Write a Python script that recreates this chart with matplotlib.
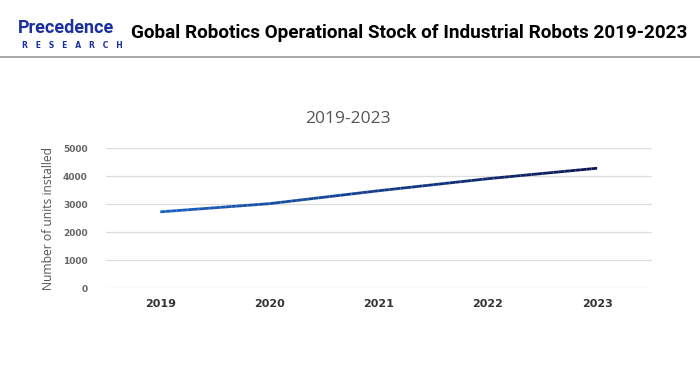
import numpy as np
import matplotlib.pyplot as plt
from matplotlib.collections import LineCollection
from matplotlib.colors import to_rgb
from matplotlib.lines import Line2D

years = ['2019', '2020', '2021', '2022', '2023']
units = [2722, 3015, 3477, 3907, 4281]
y_ticks = [0, 1000, 2000, 3000, 4000, 5000]

fig = plt.figure(figsize=(7, 3.75), dpi=100)

# header
fig.text(0.025, 0.925, 'Precedence', fontsize=13, fontweight='bold', color='#1b2f9e',
         family='Roboto', ha='left', va='center')
fig.text(0.031, 0.88, 'R   E   S   E   A   R   C   H', fontsize=5.5, fontweight='bold', color='#1b2f9e',
         family='DejaVu Sans', ha='left', va='center')
fig.text(0.187, 0.912, 'Gobal Robotics Operational Stock of Industrial Robots 2019-2023',
         fontsize=13.6, fontweight='bold', color='black', family='Roboto', ha='left', va='center')
fig.add_artist(Line2D([0, 1], [0.848, 0.848], transform=fig.transFigure, color='#9a9a9a', lw=1.2))

ax = fig.add_axes([0.151, 0.232, 0.780, 0.373])
fig.text(0.497, 0.683, '2019-2023', fontsize=12.5, color='#555555', family='Open Sans',
         ha='center', va='center')

x = np.arange(len(years))
# gradient line, light blue -> navy
c0 = np.array(to_rgb('#1a62c0'))
c1 = np.array(to_rgb('#0b1552'))
segs, cols = [], []
n_sub = 20
total = (len(x) - 1) * n_sub
k = 0
for i in range(len(x) - 1):
    for j in range(n_sub):
        t0, t1 = j / n_sub, (j + 1) / n_sub
        xa = x[i] + t0 * (x[i + 1] - x[i])
        xb = x[i] + t1 * (x[i + 1] - x[i])
        ya = units[i] + t0 * (units[i + 1] - units[i])
        yb = units[i] + t1 * (units[i + 1] - units[i])
        segs.append([(xa, ya), (xb, yb)])
        f = k / total
        cols.append(c0 * (1 - f) + c1 * f)
        k += 1
lc = LineCollection(segs, colors=cols, linewidths=2, capstyle='butt')
ax.add_collection(lc)

ax.set_xlim(-0.5, len(years) - 0.5)
ax.set_ylim(0, 5000)
ax.set_yticks(y_ticks)
ax.set_yticklabels([str(v) for v in y_ticks], fontsize=6.5, color='#666666', fontweight='bold')
ax.set_xticks(x)
ax.set_xticklabels(years, fontsize=8, color='#333333', fontweight='bold')
ax.tick_params(length=0, axis='y', pad=13)
ax.tick_params(length=0, axis='x', pad=8)
ax.grid(axis='y', color='#dddddd', lw=0.9)
ax.set_axisbelow(True)
for s in ax.spines.values():
    s.set_visible(False)
ax.set_ylabel('Number of units installed', fontsize=8.7, color='#555555', family='Open Sans',
              labelpad=6)

fig.savefig('out.png', dpi=100)
